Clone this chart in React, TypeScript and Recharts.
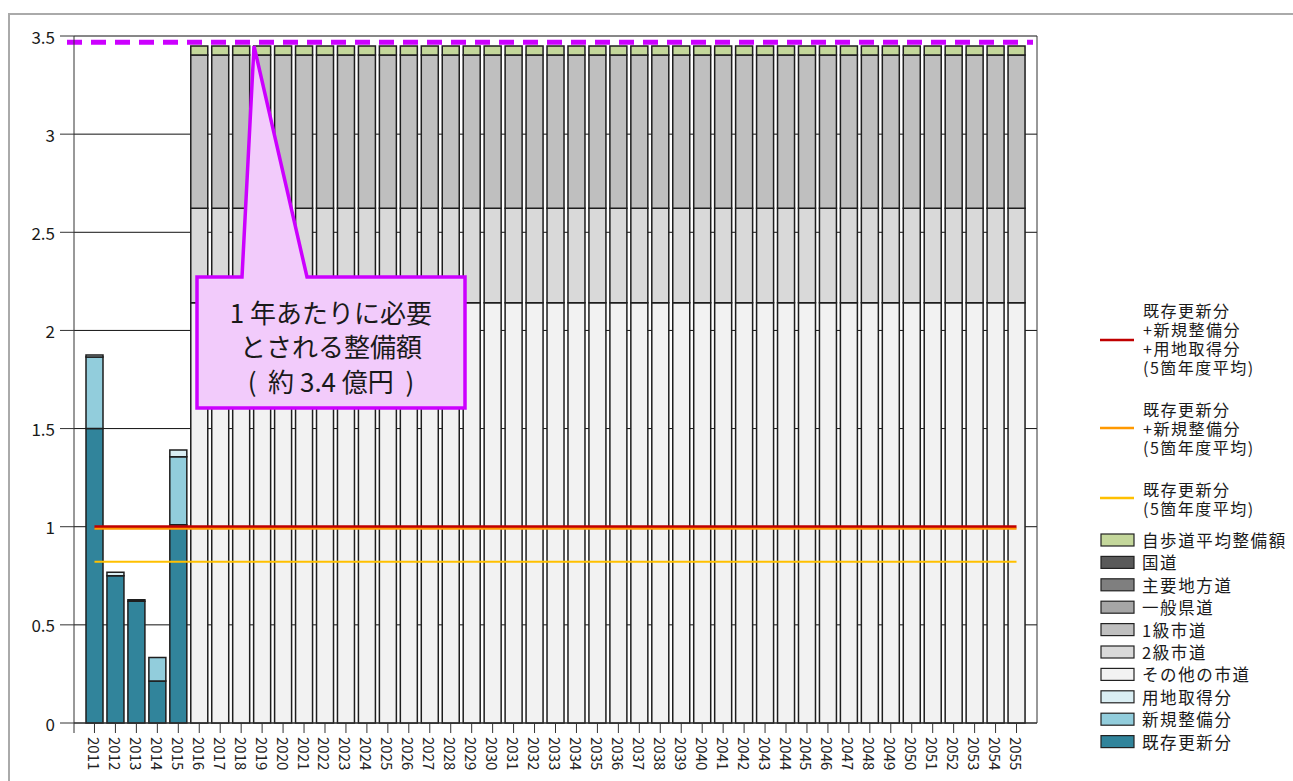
import React from "react";
import { ComposedChart, Bar, XAxis, YAxis, CartesianGrid, ReferenceLine } from "recharts";

const FONT = '"Noto Sans CJK JP", "Noto Sans", sans-serif';

const YEARS = [
  "2011", "2012", "2013", "2014", "2015", "2016", "2017", "2018", "2019", "2020",
  "2021", "2022", "2023", "2024", "2025", "2026", "2027", "2028", "2029", "2030",
  "2031", "2032", "2033", "2034", "2035", "2036", "2037", "2038", "2039", "2040",
  "2041", "2042", "2043", "2044", "2045", "2046", "2047", "2048", "2049", "2050",
  "2051", "2052", "2053", "2054", "2055",
];

// 既存更新分
const KIZON = [
  1.5, 0.75, 0.62, 0.214, 1.01,
  0, 0, 0, 0, 0, 0, 0, 0, 0, 0,
  0, 0, 0, 0, 0, 0, 0, 0, 0, 0,
  0, 0, 0, 0, 0, 0, 0, 0, 0, 0,
  0, 0, 0, 0, 0, 0, 0, 0, 0, 0,
];
// 新規整備分
const SHINKI = [
  0.365, 0, 0, 0.12, 0.347,
  0, 0, 0, 0, 0, 0, 0, 0, 0, 0,
  0, 0, 0, 0, 0, 0, 0, 0, 0, 0,
  0, 0, 0, 0, 0, 0, 0, 0, 0, 0,
  0, 0, 0, 0, 0, 0, 0, 0, 0, 0,
];
// 用地取得分
const YOUCHI = [
  0.01, 0.018, 0.008, 0, 0.034,
  0, 0, 0, 0, 0, 0, 0, 0, 0, 0,
  0, 0, 0, 0, 0, 0, 0, 0, 0, 0,
  0, 0, 0, 0, 0, 0, 0, 0, 0, 0,
  0, 0, 0, 0, 0, 0, 0, 0, 0, 0,
];
// その他の市道
const SONOTA = [
  0, 0, 0, 0, 0,
  2.141, 2.141, 2.141, 2.141, 2.141, 2.141, 2.141, 2.141, 2.141, 2.141,
  2.141, 2.141, 2.141, 2.141, 2.141, 2.141, 2.141, 2.141, 2.141, 2.141,
  2.141, 2.141, 2.141, 2.141, 2.141, 2.141, 2.141, 2.141, 2.141, 2.141,
  2.141, 2.141, 2.141, 2.141, 2.141, 2.141, 2.141, 2.141, 2.141, 2.141,
];
// 2級市道
const NIKYU = [
  0, 0, 0, 0, 0,
  0.481, 0.481, 0.481, 0.481, 0.481, 0.481, 0.481, 0.481, 0.481, 0.481,
  0.481, 0.481, 0.481, 0.481, 0.481, 0.481, 0.481, 0.481, 0.481, 0.481,
  0.481, 0.481, 0.481, 0.481, 0.481, 0.481, 0.481, 0.481, 0.481, 0.481,
  0.481, 0.481, 0.481, 0.481, 0.481, 0.481, 0.481, 0.481, 0.481, 0.481,
];
// 1級市道
const IKKYU = [
  0, 0, 0, 0, 0,
  0.781, 0.781, 0.781, 0.781, 0.781, 0.781, 0.781, 0.781, 0.781, 0.781,
  0.781, 0.781, 0.781, 0.781, 0.781, 0.781, 0.781, 0.781, 0.781, 0.781,
  0.781, 0.781, 0.781, 0.781, 0.781, 0.781, 0.781, 0.781, 0.781, 0.781,
  0.781, 0.781, 0.781, 0.781, 0.781, 0.781, 0.781, 0.781, 0.781, 0.781,
];
// 自歩道平均整備額
const JIHODO = [
  0, 0, 0, 0, 0,
  0.046, 0.046, 0.046, 0.046, 0.046, 0.046, 0.046, 0.046, 0.046, 0.046,
  0.046, 0.046, 0.046, 0.046, 0.046, 0.046, 0.046, 0.046, 0.046, 0.046,
  0.046, 0.046, 0.046, 0.046, 0.046, 0.046, 0.046, 0.046, 0.046, 0.046,
  0.046, 0.046, 0.046, 0.046, 0.046, 0.046, 0.046, 0.046, 0.046, 0.046,
];
// 一般県道・主要地方道・国道 (no values in this chart)
const IPPAN = YEARS.map(() => 0);
const SHUYO = YEARS.map(() => 0);
const KOKUDO = YEARS.map(() => 0);

// 5箇年度平均
const AVG_ALL = 1.0; // 既存更新分+新規整備分+用地取得分
const AVG_NEW = 0.99; // 既存更新分+新規整備分
const AVG_KIZON = 0.822; // 既存更新分
const REQUIRED = 3.468; // 1年あたりに必要とされる整備額

const Y_TICKS = [0, 0.5, 1, 1.5, 2, 2.5, 3, 3.5];

// stack order: bottom -> top
const STACK = [
  { key: "kizon", name: "既存更新分", color: "#31849b", values: KIZON },
  { key: "shinki", name: "新規整備分", color: "#92cddc", values: SHINKI },
  { key: "youchi", name: "用地取得分", color: "#daeef3", values: YOUCHI },
  { key: "sonota", name: "その他の市道", color: "#f2f2f2", values: SONOTA },
  { key: "nikyu", name: "2級市道", color: "#d9d9d9", values: NIKYU },
  { key: "ikkyu", name: "1級市道", color: "#bfbfbf", values: IKKYU },
  { key: "ippan", name: "一般県道", color: "#a6a6a6", values: IPPAN },
  { key: "shuyo", name: "主要地方道", color: "#7f7f7f", values: SHUYO },
  { key: "kokudo", name: "国道", color: "#595959", values: KOKUDO },
  { key: "jihodo", name: "自歩道平均整備額", color: "#c4d79b", values: JIHODO },
];

const LINE_LEGEND = [
  { color: "#c00000", lines: ["既存更新分", "+新規整備分", "+用地取得分", "(5箇年度平均)"], top: 310, marker: 340 },
  { color: "#ff9900", lines: ["既存更新分", "+新規整備分", "(5箇年度平均)"], top: 409, marker: 428 },
  { color: "#ffc000", lines: ["既存更新分", "(5箇年度平均)"], top: 489, marker: 498 },
];

const data = YEARS.map((year, i) => {
  const row: Record<string, string | number> = { year };
  STACK.forEach((s) => {
    row[s.key] = s.values[i];
  });
  return row;
});

function YearTick(props: any) {
  const { x, y, payload } = props;
  return (
    <text
      transform={`translate(${x},${y + 2}) rotate(90)`}
      textAnchor="start"
      dominantBaseline="central"
      fontSize={15}
      fontFamily={FONT}
      fill="#222"
    >
      {payload.value}
    </text>
  );
}

function ValueTick(props: any) {
  const { x, y, payload } = props;
  return (
    <text
      x={x - 1}
      y={y}
      textAnchor="end"
      dominantBaseline="central"
      fontSize={17}
      fontFamily={FONT}
      fill="#1a1a1a"
    >
      {payload.value}
    </text>
  );
}

function RequiredLine(props: any) {
  const { x1, y1, x2, y2 } = props;
  return (
    <line
      x1={x1 - 7}
      y1={y1}
      x2={x2 - 4}
      y2={y2}
      stroke="#cc00ff"
      strokeWidth={5}
      strokeDasharray="15 9"
    />
  );
}

export default function App() {
  const legendBoxes = [...STACK].reverse();
  return (
    <div style={{ position: "absolute", left: 0, top: 0, width: 1293, height: 781, background: "#fff" }}>
      <ComposedChart
        width={1293}
        height={781}
        data={data}
        margin={{ top: 36, right: 256, left: 14, bottom: 8 }}
        barSize={17}
      >
        <CartesianGrid vertical={false} stroke="#111" strokeWidth={1} />
        <XAxis
          dataKey="year"
          interval={0}
          height={50}
          tickSize={10}
          padding={{ left: 10, right: 10 }}
          tick={<YearTick />}
          axisLine={{ stroke: "#333" }}
          tickLine={{ stroke: "#333" }}
        />
        <YAxis
          domain={[0, 3.5]}
          ticks={Y_TICKS}
          width={60}
          tickSize={14}
          tickMargin={4}
          axisLine={{ stroke: "#333" }}
          tickLine={{ stroke: "#333" }}
          tick={<ValueTick />}
        />
        {STACK.map((s) => (
          <Bar
            key={s.key}
            dataKey={s.key}
            name={s.name}
            stackId="a"
            fill={s.color}
            stroke="#1e1e1e"
            strokeWidth={1.5}
            isAnimationActive={false}
          />
        ))}
        <ReferenceLine
          segment={[{ x: "2011", y: AVG_ALL }, { x: "2055", y: AVG_ALL }]}
          stroke="#c00000"
          strokeWidth={3}
        />
        <ReferenceLine
          segment={[{ x: "2011", y: AVG_NEW }, { x: "2055", y: AVG_NEW }]}
          stroke="#ff9900"
          strokeWidth={2}
        />
        <ReferenceLine
          segment={[{ x: "2011", y: AVG_KIZON }, { x: "2055", y: AVG_KIZON }]}
          stroke="#ffc000"
          strokeWidth={2}
        />
        <ReferenceLine y={REQUIRED} ifOverflow="visible" shape={<RequiredLine />} />
      </ComposedChart>

      <svg
        width={1293}
        height={781}
        style={{ position: "absolute", left: 0, top: 0, pointerEvents: "none" }}
        fontFamily={FONT}
      >
        {/* chart frame */}
        <rect x={9} y={14} width={1300} height={800} fill="none" stroke="#aaa" strokeWidth={2} />
        <line x1={1037} y1={36} x2={1037} y2={723} stroke="#333" strokeWidth={1} />
        <line x1={74} y1={723} x2={74} y2={733} stroke="#333" strokeWidth={1} />

        {/* callout */}
        <path
          d="M197,277 L242,277 L254,46 L307,277 L465,277 L465,408 L197,408 Z"
          fill="#f2cbfb"
          stroke="#cc00ff"
          strokeWidth={3.5}
        />
        <g fontSize={26} fill="#1a1a1a" textAnchor="middle" dominantBaseline="central">
          <text x={331} y={311}>1 年あたりに必要</text>
          <text x={331} y={345}>とされる整備額</text>
          <text x={331} y={380} xmlSpace="preserve">(  約 3.4 億円  )</text>
        </g>

        {/* legend: lines */}
        {LINE_LEGEND.map((l) => (
          <g key={l.top}>
            <line x1={1100} y1={l.marker} x2={1134} y2={l.marker} stroke={l.color} strokeWidth={2.5} />
            {l.lines.map((t, i) => (
              <text
                key={i}
                x={1143}
                y={l.top + i * 19}
                fontSize={16}
                letterSpacing={1.5}
                fill="#1a1a1a"
                dominantBaseline="central"
              >
                {t}
              </text>
            ))}
          </g>
        ))}

        {/* legend: boxes */}
        {legendBoxes.map((s, i) => {
          const cy = 540 + i * 22.4;
          return (
            <g key={s.key}>
              <rect x={1101} y={cy - 6} width={33} height={12} fill={s.color} stroke="#222" strokeWidth={1.2} />
              <text
                x={1142}
                y={cy}
                fontSize={16.5}
                letterSpacing={1.6}
                fill="#1a1a1a"
                dominantBaseline="central"
              >
                {s.name}
              </text>
            </g>
          );
        })}
      </svg>
    </div>
  );
}
